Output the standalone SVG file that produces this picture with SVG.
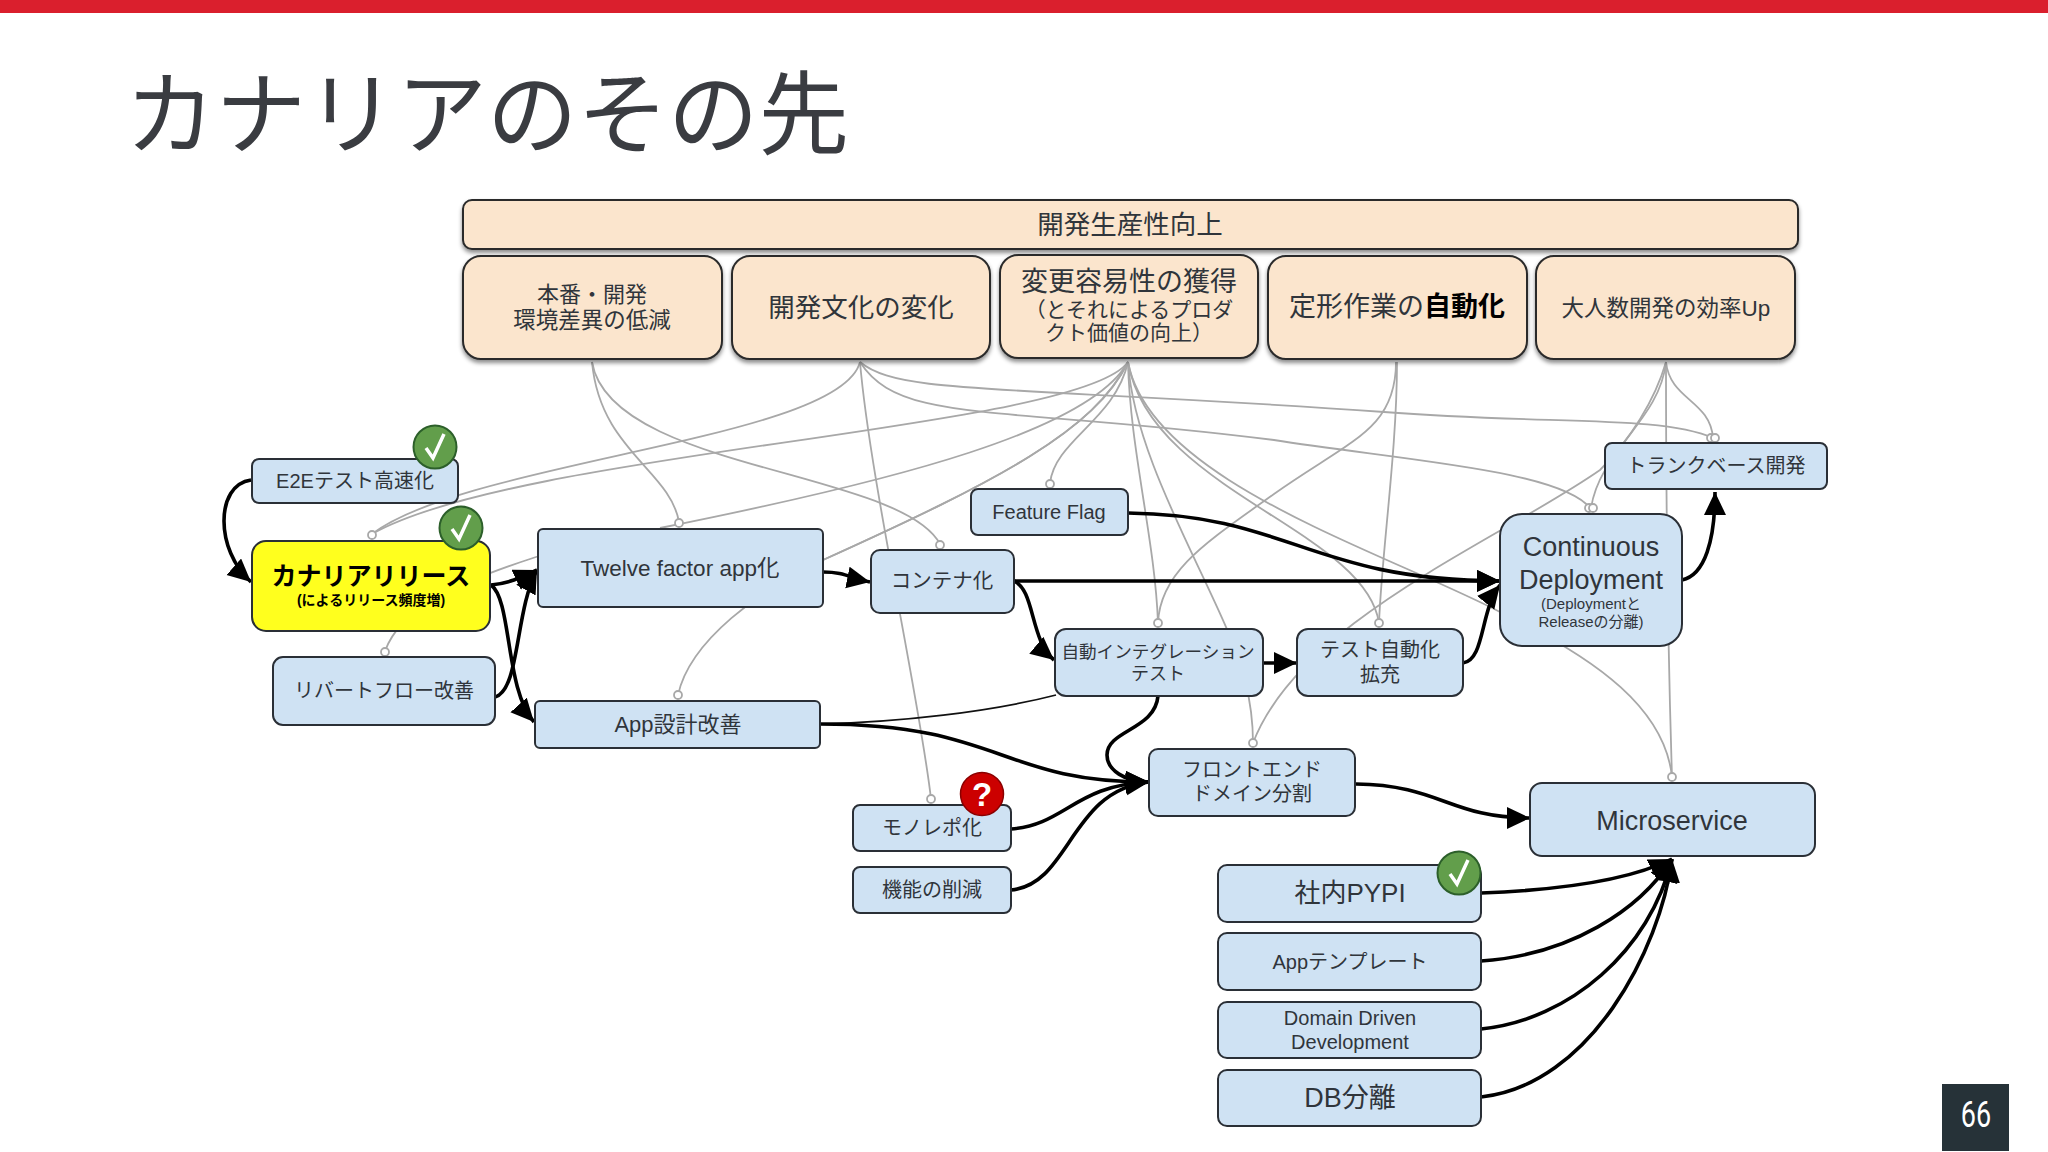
<svg xmlns="http://www.w3.org/2000/svg" width="2048" height="1152" viewBox="0 0 2048 1152">
<defs>
<style>
text{font-family:"Liberation Sans","Noto Sans CJK JP",sans-serif;fill:#30353b;text-anchor:middle}
.top rect{fill:#fbe5cd;stroke:#2a2a2a;stroke-width:2;filter:url(#sh)}
.n rect{fill:#cfe2f3;stroke:#2a2f36;stroke-width:2}
.g path{fill:none;stroke:#a8a8a8;stroke-width:1.8}
.g circle{fill:#fff;stroke:#a8a8a8;stroke-width:1.8}
.b path{fill:none;stroke:#000;stroke-width:3.6;marker-end:url(#a)}
.badge circle{fill:#629e4b;stroke:#2c5f2a;stroke-width:2}
.badge path{fill:none;stroke:#fff;stroke-width:3.5}
</style>
<filter id="sh" x="-5%" y="-10%" width="110%" height="125%"><feDropShadow dx="0" dy="3" stdDeviation="2" flood-color="#000" flood-opacity=".45"/></filter>
<marker id="a" markerUnits="userSpaceOnUse" markerWidth="26" markerHeight="24" refX="23" refY="11" orient="auto"><path d="M0 0L23 11L0 22z" fill="#000"/></marker>
</defs>
<rect width="2048" height="1152" fill="#fff"/>
<rect width="2048" height="13" fill="#da1f2d"/>
<text x="487" y="147" style="font-family:'Noto Sans CJK JP',sans-serif;font-weight:400;font-size:90.5px;fill:#3a3c41;text-anchor:middle">カナリアのその先</text>
<g id="connectors">
<g class="g">
<path d="M592 362C600 450 670 470 679 522"/>
<path d="M592 362C610 470 900 470 940 544"/>
<path d="M860 362C840 440 470 460 372 534"/>
<path d="M860 362C870 480 920 700 931 799"/>
<path d="M860 362C900 425 1000 405 1274 440C1400 460 1560 470 1590 508"/>
<path d="M860 362C900 395 1000 385 1384 412C1550 425 1660 415 1713 438"/>
<path d="M1128 362C1080 430 520 450 372 534"/>
<path d="M1128 362C1090 430 900 480 660 528"/>
<path d="M1128 362C1095 430 1000 480 823 560C720 607 620 530 536 557C450 585 400 610 385 651"/>
<path d="M1128 362C1095 430 1000 480 823 560C760 590 690 640 678 695"/>
<path d="M1128 362C1115 420 1055 440 1050 483"/>
<path d="M1128 362C1130 450 1155 540 1158 623"/>
<path d="M1128 362C1135 470 1225 600 1245 680C1250 700 1253 720 1253 743"/>
<path d="M1128 362C1150 490 1365 530 1379 623"/>
<path d="M1128 362C1150 480 1380 550 1500 612C1600 660 1665 710 1672 777"/>
<path d="M1396 362C1396 430 1350 440 1274 494C1210 540 1160 570 1158 623"/>
<path d="M1397 362C1397 450 1382 550 1379 623"/>
<path d="M1666 362C1670 400 1710 400 1713 438"/>
<path d="M1666 362C1660 420 1600 450 1591 508"/>
<path d="M1666 362C1655 400 1630 440 1600 470C1500 540 1300 620 1253 743"/>
<path d="M1666 362C1666 500 1668 650 1672 777"/>
<circle cx="372" cy="535" r="4"/><circle cx="679" cy="523" r="4"/><circle cx="940" cy="545" r="4"/><circle cx="385" cy="652" r="4"/><circle cx="678" cy="695" r="4"/><circle cx="1050" cy="484" r="4"/><circle cx="1158" cy="623" r="4"/><circle cx="1379" cy="623" r="4"/><circle cx="1253" cy="743" r="4"/><circle cx="1589" cy="508" r="4"/><circle cx="1593" cy="508" r="4"/><circle cx="1711" cy="438" r="4"/><circle cx="1715" cy="438" r="4"/><circle cx="1672" cy="777" r="4"/><circle cx="931" cy="799" r="4"/>
</g>
<path d="M820 724C900 722 990 712 1056 695" fill="none" stroke="#111" stroke-width="1.8"/>
<g class="b">
<path d="M251 480C215 485 215 550 251 582"/>
<path d="M491 585C510 583 520 578 537 570"/>
<path d="M491 585C512 600 505 690 534 722"/>
<path d="M495 697C520 690 515 610 537 570"/>
<path d="M823 572C845 572 850 578 870 582"/>
<path d="M1014 581H1500"/>
<path d="M1014 581C1035 590 1030 640 1054 660"/>
<path d="M1128 513C1290 515 1310 580 1500 581"/>
<path d="M1263 663H1297"/>
<path d="M1463 663C1485 660 1480 610 1500 585"/>
<path d="M1682 580C1705 575 1715 540 1715 492"/>
<path d="M820 724C1000 724 1000 782 1149 782"/>
<path d="M1158 696C1155 730 1107 730 1107 755C1107 770 1125 782 1149 782"/>
<path d="M1011 829C1065 825 1075 785 1149 782"/>
<path d="M1011 890C1070 885 1070 790 1149 782"/>
<path d="M1356 784C1440 785 1450 818 1530 818"/>
<path d="M1481 893C1560 890 1630 880 1672 859"/>
<path d="M1481 961C1570 955 1640 910 1672 859"/>
<path d="M1481 1029C1570 1020 1650 950 1672 859"/>
<path d="M1481 1097C1590 1085 1660 950 1672 859"/>
</g>
</g>
<g id="top-bar" class="top"><rect x="463" y="200" width="1335" height="49" rx="9"/><text x="1130" y="234" font-size="26.5">開発生産性向上</text></g>
<g id="top-1" class="top"><rect x="463" y="256" width="259" height="103" rx="18"/><text x="592" y="302" font-size="22">本番・開発</text><text x="592" y="328" font-size="22.5">環境差異の低減</text></g>
<g id="top-2" class="top"><rect x="732" y="256" width="258" height="103" rx="18"/><text x="861" y="317" font-size="26.5">開発文化の変化</text></g>
<g id="top-3" class="top"><rect x="1000" y="255" width="258" height="103" rx="18"/><text x="1129" y="291" font-size="27">変更容易性の獲得</text><text x="1129" y="317" font-size="21">（とそれによるプロダ</text><text x="1129" y="340" font-size="21">クト価値の向上）</text></g>
<g id="top-4" class="top"><rect x="1268" y="256" width="259" height="103" rx="18"/><text x="1397" y="316" font-size="27">定形作業の<tspan font-weight="700" fill="#000">自動化</tspan></text></g>
<g id="top-5" class="top"><rect x="1536" y="256" width="259" height="103" rx="18"/><text x="1666" y="316" font-size="22.5">大人数開発の効率Up</text></g>
<g id="e2e" class="n"><rect x="252" y="459" width="206" height="44" rx="7"/><text x="355" y="488" font-size="20">E2Eテスト高速化</text></g>
<g id="canary" class="n"><rect x="252" y="541" width="238" height="90" rx="14" style="fill:#ffff1e"/><text x="371" y="585" font-size="25" font-weight="700" style="fill:#000">カナリアリリース</text><text x="371" y="605" font-size="14" font-weight="700" style="fill:#000">(によるリリース頻度増)</text></g>
<g id="revert" class="n"><rect x="273" y="657" width="222" height="68" rx="10"/><text x="384" y="698" font-size="20">リバートフロー改善</text></g>
<g id="twelve" class="n"><rect x="538" y="529" width="285" height="78" rx="5"/><text x="680" y="576" font-size="22.5">Twelve factor app化</text></g>
<g id="appdesign" class="n"><rect x="535" y="701" width="285" height="47" rx="5"/><text x="678" y="732" font-size="22">App設計改善</text></g>
<g id="container" class="n"><rect x="871" y="550" width="143" height="63" rx="9"/><text x="942" y="588" font-size="20.5">コンテナ化</text></g>
<g id="ff" class="n"><rect x="971" y="489" width="157" height="46" rx="7"/><text x="1049" y="519" font-size="20">Feature Flag</text></g>
<g id="it" class="n"><rect x="1055" y="629" width="208" height="67" rx="11"/><text x="1158" y="658" font-size="17.6">自動インテグレーション</text><text x="1158" y="680" font-size="18">テスト</text></g>
<g id="testauto" class="n"><rect x="1297" y="629" width="166" height="67" rx="11"/><text x="1380" y="657" font-size="20">テスト自動化</text><text x="1380" y="682" font-size="20">拡充</text></g>
<g id="cd" class="n"><rect x="1500" y="514" width="182" height="132" rx="22"/><text x="1591" y="556" font-size="27">Continuous</text><text x="1591" y="589" font-size="27">Deployment</text><text x="1591" y="609" font-size="15">(Deploymentと</text><text x="1591" y="627" font-size="15">Releaseの分離)</text></g>
<g id="trunk" class="n"><rect x="1605" y="443" width="222" height="46" rx="7"/><text x="1716" y="473" font-size="20">トランクベース開発</text></g>
<g id="frontend" class="n"><rect x="1149" y="749" width="206" height="67" rx="9"/><text x="1252" y="777" font-size="20">フロントエンド</text><text x="1252" y="801" font-size="20">ドメイン分割</text></g>
<g id="micro" class="n"><rect x="1530" y="783" width="285" height="73" rx="12"/><text x="1672" y="830" font-size="27">Microservice</text></g>
<g id="mono" class="n"><rect x="853" y="805" width="158" height="46" rx="7"/><text x="932" y="835" font-size="20">モノレポ化</text></g>
<g id="reduce" class="n"><rect x="853" y="867" width="158" height="46" rx="7"/><text x="932" y="897" font-size="20">機能の削減</text></g>
<g id="pypi" class="n"><rect x="1218" y="865" width="263" height="57" rx="9"/><text x="1350" y="902" font-size="26">社内PYPI</text></g>
<g id="apptmpl" class="n"><rect x="1218" y="933" width="263" height="57" rx="9"/><text x="1350" y="969" font-size="20">Appテンプレート</text></g>
<g id="ddd" class="n"><rect x="1218" y="1002" width="263" height="56" rx="9"/><text x="1350" y="1025" font-size="20">Domain Driven</text><text x="1350" y="1049" font-size="20">Development</text></g>
<g id="db" class="n"><rect x="1218" y="1070" width="263" height="56" rx="9"/><text x="1350" y="1107" font-size="27">DB分離</text></g>
<g id="badge-e2e" class="badge"><circle cx="435" cy="447" r="21.5"/><path d="M426 448L433 458L444 434"/></g>
<g id="badge-canary" class="badge"><circle cx="461" cy="528" r="21.5"/><path d="M452 529L459 539L470 515"/></g>
<g id="badge-pypi" class="badge"><circle cx="1459" cy="873" r="21.5"/><path d="M1450 874L1457 884L1468 860"/></g>
<g id="badge-mono"><circle cx="982" cy="794" r="21.5" fill="#cc0000" stroke="#8a0000" stroke-width="1.5"/><text x="982" y="806" font-size="33" font-weight="700" style="fill:#fff">?</text></g>
<rect x="1942" y="1084" width="67" height="67" fill="#263238"/>
<text x="1976" y="1127" font-size="36" style="fill:#fff;font-family:'Liberation Sans Narrow','Roboto',sans-serif" transform="translate(1976 0) scale(.75 1) translate(-1976 0)">66</text>
</svg>
